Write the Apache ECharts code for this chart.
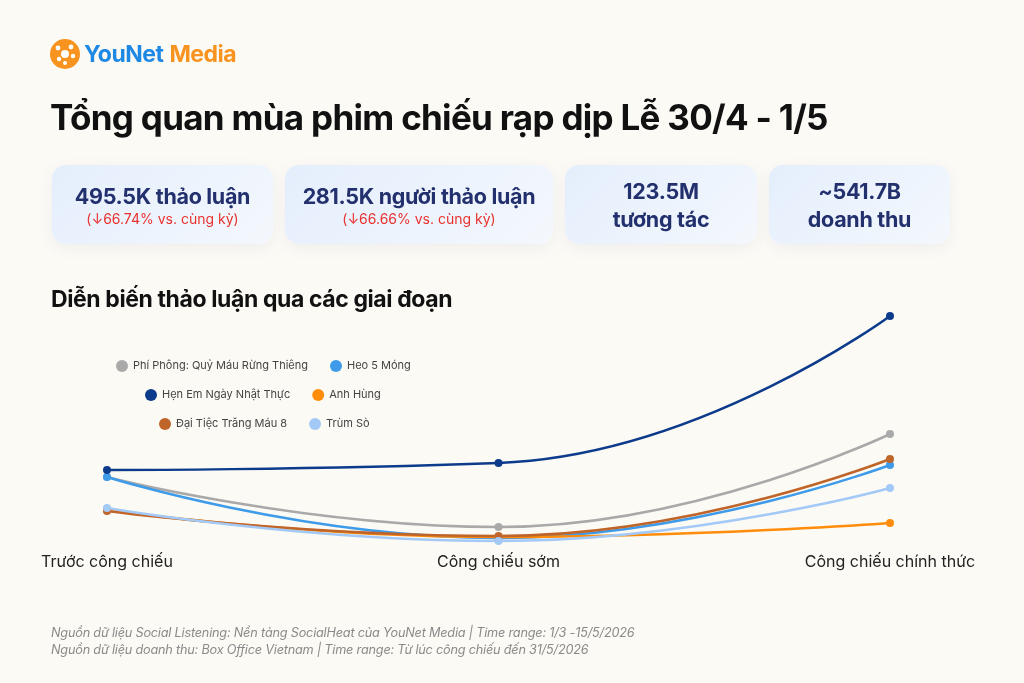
<!DOCTYPE html>
<html>
<head>
<meta charset="utf-8">
<script src="https://cdn.jsdelivr.net/npm/echarts@6/dist/echarts.min.js"></script>
<style>
  html, body { margin: 0; padding: 0; }
  body { width: 1024px; height: 683px; background: #fcfaf5; position: relative; overflow: hidden;
         font-family: Inter, "Noto Sans", sans-serif; }
  #chart { position: absolute; left: 0; top: 0; width: 1024px; height: 683px; }
  .abs { position: absolute; }
  .logo { left: 50px; top: 38px; height: 32px; display: flex; align-items: center; }
  .logo .t1 { color: #1e88e5; font-weight: 700; font-size: 23px; margin-left: 4px; letter-spacing: -0.5px; }
  .logo .t2 { color: #f7931e; font-weight: 700; font-size: 23px; letter-spacing: -0.5px; }
  .title { left: 50px; top: 96px; font-size: 35px; font-weight: 700; color: #111; letter-spacing: -0.7px; }
  .card { top: 165px; height: 79px; border-radius: 14px; background: linear-gradient(135deg, #e4eefc, #f4f8fd);
          box-shadow: 0 4px 14px rgba(120,140,180,0.10); text-align: center; color: #23306e; font-weight: 700;
          display: flex; flex-direction: column; justify-content: center; }
  .card .big { font-size: 21.5px; line-height: 28px; letter-spacing: -0.3px; }
  .card .red { font-size: 14px; color: #e8322f; font-weight: 400; line-height: 18px; }
  .sub { left: 51px; top: 285px; font-size: 23px; font-weight: 700; color: #111; letter-spacing: -0.4px; }
  .foot { left: 51px; top: 624px; font-size: 12.7px; font-style: italic; color: #8a8a8a; line-height: 17px; letter-spacing: -0.2px; }
</style>
</head>
<body>
<div id="chart"></div>

<div class="abs logo">
  <svg width="30" height="30" viewBox="0 0 30 30">
    <circle cx="15" cy="15" r="15" fill="#f7931e"/>
    <circle cx="15" cy="15" r="4" fill="#fff"/>
    <circle cx="8" cy="9" r="2.4" fill="#fff"/>
    <circle cx="21" cy="8" r="2.4" fill="#fff"/>
    <circle cx="23" cy="17" r="2.2" fill="#fff"/>
    <circle cx="9" cy="20" r="2.2" fill="#fff"/>
    <circle cx="15" cy="24" r="2" fill="#fff"/>
  </svg>
  <span class="t1">YouNet</span><span class="t2" style="margin-left:6px">Media</span>
</div>

<div class="abs title">Tổng quan mùa phim chiếu rạp dịp Lễ 30/4 - 1/5</div>

<div class="abs card" style="left:52px;width:221px;">
  <div class="big">495.5K thảo luận</div>
  <div class="red">(↓66.74% vs. cùng kỳ)</div>
</div>
<div class="abs card" style="left:285px;width:268px;">
  <div class="big">281.5K người thảo luận</div>
  <div class="red">(↓66.66% vs. cùng kỳ)</div>
</div>
<div class="abs card" style="left:565px;width:192px;">
  <div class="big">123.5M</div>
  <div class="big">tương tác</div>
</div>
<div class="abs card" style="left:769px;width:181px;">
  <div class="big">~541.7B</div>
  <div class="big">doanh thu</div>
</div>

<div class="abs sub">Diễn biến thảo luận qua các giai đoạn</div>

<div class="abs foot">
  Nguồn dữ liệu Social Listening: Nền tảng SocialHeat của YouNet Media | Time range: 1/3 -15/5/2026<br>
  Nguồn dữ liệu doanh thu: Box Office Vietnam | Time range: Từ lúc công chiếu đến 31/5/2026
</div>

<script>
// giai đoạn
var stages = ['Trước công chiếu', 'Công chiếu sớm', 'Công chiếu chính thức'];

// mức thảo luận (ước lượng từ hình)
var phiPhong = [68, 18, 111];
var heo5Mong = [68, 7, 80];
var henEm = [75, 82, 229];
var anhHung = [35, 8, 22];
var daiTiec = [34, 9, 86];
var trumSo = [37, 4, 57];

var names = ['Phí Phông: Quỷ Máu Rừng Thiêng', 'Heo 5 Móng', 'Hẹn Em Ngày Nhật Thực', 'Anh Hùng', 'Đại Tiệc Trăng Máu 8', 'Trùm Sò'];
var colors = ['#a9a9a9', '#3d9be9', '#0d3b8c', '#ff8c0a', '#c0652a', '#a3c9f7'];
var values = [phiPhong, heo5Mong, henEm, anhHung, daiTiec, trumSo];

var myChart = echarts.init(document.getElementById('chart'));

var series = [];
for (var i = 0; i < names.length; i++) {
    series.push({
        name: names[i],
        type: 'line',
        smooth: 0.5,
        data: values[i],
        symbol: 'circle',
        symbolSize: 8,
        lineStyle: { width: 2.5, color: colors[i] },
        itemStyle: { color: colors[i] }
    });
}

function legendRow(items, left, top) {
    return {
        data: items,
        left: left,
        top: top,
        icon: 'circle',
        itemWidth: 12,
        itemHeight: 12,
        itemGap: 22,
        textStyle: { color: '#444', fontSize: 11, fontFamily: 'Inter' }
    };
}

var option = {
    animation: false,
    color: colors,
    legend: [
        legendRow([names[0], names[1]], 111, 355),
        legendRow([names[2], names[3]], 140, 384),
        legendRow([names[4], names[5]], 154, 413)
    ],
    grid: { left: 107, right: 134, top: 305, bottom: 138 },
    xAxis: {
        type: 'category',
        boundaryGap: false,
        data: stages,
        axisLine: { show: false },
        axisTick: { show: false },
        axisLabel: { color: '#222', fontSize: 16, margin: 9, fontFamily: 'Inter' }
    },
    yAxis: {
        type: 'value',
        min: 0,
        max: 240,
        show: false,
        splitLine: { show: false }
    },
    series: series
};

if (option && typeof option === "object") {
    myChart.setOption(option, true);
}
</script>
</body>
</html>
